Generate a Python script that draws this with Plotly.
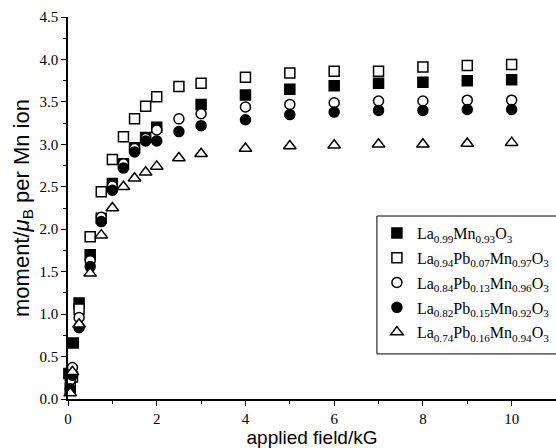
import plotly.graph_objects as go

# Magnetisation curves: moment per Mn ion vs applied field
series_names = [
    "La<sub>0.99</sub>Mn<sub>0.93</sub>O<sub>3</sub>",
    "La<sub>0.94</sub>Pb<sub>0.07</sub>Mn<sub>0.97</sub>O<sub>3</sub>",
    "La<sub>0.84</sub>Pb<sub>0.13</sub>Mn<sub>0.96</sub>O<sub>3</sub>",
    "La<sub>0.82</sub>Pb<sub>0.15</sub>Mn<sub>0.92</sub>O<sub>3</sub>",
    "La<sub>0.74</sub>Pb<sub>0.16</sub>Mn<sub>0.94</sub>O<sub>3</sub>",
]

field_la099 = [0.02, 0.12, 0.25, 0.5, 0.75, 1.0, 1.25, 1.5, 1.75, 2.0, 3, 4, 5, 6, 7, 8, 9, 10]
moment_la099 = [0.30, 0.66, 1.13, 1.70, 2.13, 2.54, 2.77, 2.96, 3.08, 3.20, 3.47, 3.58, 3.65, 3.69, 3.72, 3.73, 3.75, 3.76]

field_pb007 = [0.05, 0.1, 0.25, 0.5, 0.75, 1.0, 1.25, 1.5, 1.75, 2.0, 2.5, 3, 4, 5, 6, 7, 8, 9, 10]
moment_pb007 = [0.13, 0.26, 1.06, 1.91, 2.44, 2.82, 3.09, 3.30, 3.45, 3.56, 3.68, 3.72, 3.79, 3.84, 3.86, 3.86, 3.91, 3.93, 3.94]

field_pb013 = [0.05, 0.1, 0.25, 0.5, 0.75, 1.0, 1.25, 1.5, 1.75, 2.0, 2.5, 3, 4, 5, 6, 7, 8, 9, 10]
moment_pb013 = [0.22, 0.37, 0.96, 1.63, 2.14, 2.51, 2.77, 2.95, 3.07, 3.17, 3.30, 3.36, 3.44, 3.47, 3.49, 3.51, 3.51, 3.52, 3.52]

field_pb015 = [0.05, 0.1, 0.25, 0.5, 0.75, 1.0, 1.25, 1.5, 1.75, 2.0, 2.5, 3, 4, 5, 6, 7, 8, 9, 10]
moment_pb015 = [0.12, 0.28, 0.84, 1.56, 2.09, 2.46, 2.72, 2.91, 3.04, 3.04, 3.15, 3.22, 3.29, 3.35, 3.38, 3.40, 3.40, 3.41, 3.41]

field_pb016 = [0.05, 0.1, 0.25, 0.5, 0.75, 1.0, 1.25, 1.5, 1.75, 2.0, 2.5, 3, 4, 5, 6, 7, 8, 9, 10]
moment_pb016 = [0.07, 0.32, 0.88, 1.48, 1.93, 2.25, 2.50, 2.60, 2.67, 2.74, 2.84, 2.89, 2.95, 2.98, 2.99, 3.00, 3.00, 3.01, 3.02]

fields = [field_la099, field_pb007, field_pb013, field_pb015, field_pb016]
moments = [moment_la099, moment_pb007, moment_pb013, moment_pb015, moment_pb016]
symbols = ["square", "square", "circle", "circle", "triangle-up"]
fills = ["black", "white", "white", "black", "white"]

fig = go.Figure()
for i, (name, x, y, sym, fill) in enumerate(zip(series_names, fields, moments, symbols, fills)):
    fig.add_trace(go.Scatter(
        x=x, y=y, mode="markers", name=name, legendgroup=f"g{i}",
        marker=dict(symbol=sym, size=10 if sym != "triangle-up" else 11,
                    color=fill, line=dict(color="black", width=1.5)),
        cliponaxis=False,
    ))

serif = "Liberation Serif"
sans = "Liberation Sans"

# Legend frame running out to the right edge of the figure
fig.add_shape(type="rect", xref="paper", yref="paper",
              x0=0.633, x1=1.02, y0=0.118, y1=0.479,
              line=dict(color="black", width=1), fillcolor="white", layer="below")

fig.update_layout(
    width=556, height=448,
    margin=dict(l=68, r=0, t=17, b=49),
    paper_bgcolor="white", plot_bgcolor="white",
    showlegend=True,
    legend=dict(
        x=0.633, y=0.479, xanchor="left", yanchor="top",
        borderwidth=0, bgcolor="rgba(0,0,0,0)",
        font=dict(family=serif, size=16, color="black"),
        tracegroupgap=1,
    ),
    xaxis=dict(
        range=[0, 11], tickvals=[0, 2, 4, 6, 8, 10],
        showgrid=False, zeroline=False,
        showline=True, linecolor="black", linewidth=1.5,
        ticks="outside", ticklen=5, tickwidth=1.2, tickcolor="black",
        minor=dict(dtick=1, ticks="outside", ticklen=3, tickcolor="black", tickwidth=1),
        tickfont=dict(family=serif, size=15, color="black"),
        title=dict(text="applied field/kG", font=dict(family=sans, size=19, color="black"), standoff=1),
    ),
    yaxis=dict(
        range=[0, 4.5], dtick=0.5, tickformat=".1f",
        showgrid=False, zeroline=False,
        showline=True, linecolor="black", linewidth=1.5,
        ticks="outside", ticklen=5, tickwidth=1.2, tickcolor="black",
        minor=dict(dtick=0.25, ticks="outside", ticklen=3, tickcolor="black", tickwidth=1),
        tickfont=dict(family=serif, size=15, color="black"),
        title=dict(text="moment/<i>μ</i><sub>B</sub> per Mn ion", font=dict(family=sans, size=22, color="black"), standoff=4),
    ),
)

fig.write_html("out.html")
